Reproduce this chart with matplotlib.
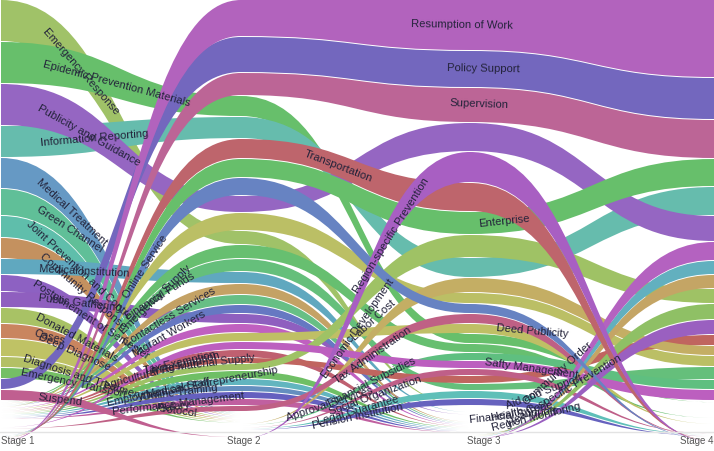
import matplotlib
matplotlib.use("Agg")
import matplotlib.pyplot as plt
from matplotlib.path import Path
from matplotlib.patches import PathPatch

plt.rcParams['font.family'] = ['Liberation Sans', 'DejaVu Sans']

STAGE_NAMES = ["Stage 1", "Stage 2", "Stage 3", "Stage 4"]

# topic -> colour, in drawing order (later topics lie on top, and sit lower among zero tails)
TOPIC_NAMES = [
    "Emergency Response", "Epidemic Prevention Materials", "Information Reporting",
    "Medical Treatment", "Green Channel", "Joint Prevention and Control", "Community Response",
    "Medical Institution", "Postponement of Semester", "Public Gathering", "Donated Materials",
    "Cases", "Deep Diagnose", "Diagnosis and Treatment", "Emergency Transport",
    "Emergency Supply", "Financial Funds", "Contactless Services", "Work Safety", "Migrant Workers",
    "Material Security", "Agricultural Resumption", "Deed Publicity", "Living Material Supply",
    "Tax Exemption", "Economic Development", "Employment and Entrepreneurship", "Medical Staff",
    "Online Training", "Performance Management", "Salary", "Labor Cost", "Financial Subsidies",
    "Approval Services", "Social Organization", "Legal Guarantee", "Pension Institution",
    "Safty Management", "Tax Administration", "Aid and Support", "Health Code", "Financial Support",
    "Health-specific Prevention", "Community Order", "Publicity and Guidance", "Suspend",
    "Online Service", "Enterprise", "Transportation", "Region-specific Prevention",
    "Supervision", "Policy Support", "Resumption of Work",
]
TOPIC_COLORS = [
    "#A0C268", "#67BF6B", "#66BCAD",
    "#6699C4", "#60BF98", "#5FBEAB", "#C4915F",
    "#60A8BF", "#8D61C2", "#8F5FBF", "#A8C265",
    "#C9855F", "#BFC265", "#B3C065", "#75BF65",
    "#67BF70", "#65BF7B", "#C4A265", "#67BF85", "#6678C2",
    "#BBBF65", "#C060C0", "#BFBF65", "#BF6070",
    "#C0655F", "#9FC265", "#6FBF65", "#62B5BF",
    "#658FBF", "#6560BF", "#C060A0", "#C4AE64", "#5FBF80",
    "#75BF65", "#BF5F88", "#5FBFB8", "#6662BE",
    "#BC5FBF", "#BF6085", "#8FC065", "#C4A565", "#62B0BF",
    "#9A60C0", "#B462C0", "#9566C2", "#C05F90",
    "#6783C2", "#67BF6B", "#BE656C", "#A85FC2",
    "#BC6596", "#7367BE", "#B263BD",
]

STAGE1_TOPICS = ["Emergency Response", "Epidemic Prevention Materials", "Publicity and Guidance",
                 "Information Reporting", "Medical Treatment", "Green Channel",
                 "Joint Prevention and Control", "Community Response", "Medical Institution",
                 "Postponement of Semester", "Public Gathering", "Donated Materials", "Cases",
                 "Deep Diagnose", "Diagnosis and Treatment", "Emergency Transport",
                 "Policy Support", "Suspend"]
STAGE1_VALUES = [41, 41, 41, 31, 30, 26, 21, 20, 15, 16, 15, 15, 14, 17, 10, 10, 10, 10]

STAGE2_TOPICS = ["Resumption of Work", "Policy Support", "Supervision", "Epidemic Prevention Materials",
                 "Information Reporting", "Transportation", "Enterprise", "Online Service",
                 "Publicity and Guidance", "Material Security", "Emergency Response", "Emergency Supply",
                 "Financial Funds", "Medical Institution", "Contactless Services", "Work Safety",
                 "Migrant Workers", "Public Gathering", "Agricultural Resumption", "Deed Publicity",
                 "Safty Management", "Living Material Supply", "Tax Exemption", "Economic Development",
                 "Employment and Entrepreneurship", "Medical Staff", "Online Training",
                 "Performance Management", "Salary", "Tax Administration"]
STAGE2_VALUES = [36, 35, 22, 20, 21, 19, 18, 17, 16, 17, 13, 13, 12, 11, 10, 9, 8, 9, 8, 8, 7, 7, 5, 6, 7, 6, 5, 6, 6, 5]

STAGE3_TOPICS = ["Resumption of Work", "Policy Support", "Supervision", "Publicity and Guidance",
                 "Region-specific Prevention", "Transportation", "Enterprise", "Economic Development",
                 "Information Reporting", "Labor Cost", "Material Security", "Online Service",
                 "Tax Administration", "Deed Publicity", "Epidemic Prevention Materials",
                 "Emergency Supply", "Financial Subsidies", "Safty Management", "Social Organization",
                 "Tax Exemption", "Financial Funds", "Legal Guarantee", "Pension Institution"]
STAGE3_VALUES = [50, 36, 34, 28, 30, 28, 22, 22, 19, 14, 10, 9, 9, 9, 9, 8, 7, 7, 6, 7, 6, 7, 6]

STAGE4_TOPICS = ["Resumption of Work", "Policy Support", "Supervision", "Enterprise",
                 "Information Reporting", "Publicity and Guidance", "Community Order", "Financial Support",
                 "Health Code", "Economic Development", "Aid and Support", "Health-specific Prevention",
                 "Tax Exemption", "Labor Cost", "Material Security", "Financial Funds",
                 "Financial Subsidies", "Safty Management"]
STAGE4_VALUES = [77, 41, 38, 27, 28, 25, 18, 13, 13, 14, 15, 14, 10, 9, 10, 12, 9, 10]

# text, centre x, centre y, rotation
LABELS = [
    ("Emergency Response", 81, 71, -49), ("Epidemic Prevention Materials", 117, 84, -15),
    ("Publicity and Guidance", 89, 136, -29), ("Information Reporting", 94, 138, 5),
    ("Medical Treatment", 72, 212, -43), ("Green Channel", 70, 229, -33),
    ("Joint Prevention and Control", 80, 271, -43), ("Community Response", 83, 292, -41),
    ("Medical Institution", 84, 271, -3), ("Postponement of Semester", 91, 320, -33),
    ("Public Gathering", 80, 303, -7), ("Donated Materials", 77, 338, -28),
    ("Cases", 50, 337, -15), ("Deep Diagnose", 74, 352, -24),
    ("Diagnosis and Treatment", 83, 378, -18), ("Emergency Transport", 74, 383, -12),
    ("Suspend", 60, 400, -7), ("Online Service", 145, 267, 57),
    ("Emergency Supply", 155, 300, 44), ("Financial Funds", 160, 296, 32),
    ("Contactless Services", 170, 317, 31), ("Migrant Workers", 169, 334, 30),
    ("Agricultural Resumption", 162, 371, 15), ("Tax Exemption", 180, 363, 13),
    ("Living Material Supply", 200, 364, 7), ("Employment and Entrepreneurship", 192, 387, 11),
    ("Medical Staff", 178, 388, 12), ("Online Training", 180, 392, 7),
    ("Performance Management", 178, 404, 7), ("Salary", 175, 407, 8), ("Protocol", 176, 411, -8),
    ("Transportation", 338, 166, -21), ("Region-specific Prevention", 391, 236, 58),
    ("Economic Development", 358, 329, 55), ("Labor Cost", 373, 320, 42),
    ("Tax Administration", 373, 355, 35), ("Financial Subsidies", 372, 382, 27),
    ("Social Organization", 375, 396, 20), ("Approval Services", 330, 404, 18),
    ("Legal Guarantee", 358, 411, 16), ("Pension Institution", 358, 416, 12),
    ("Resumption of Work", 462, 25, -1), ("Policy Support", 483, 69, -1),
    ("Supervision", 479, 104, -2), ("Enterprise", 504, 221, 6),
    ("Deed Publicity", 532, 331, -5), ("Safty Management", 531, 369, -8),
    ("Community Order", 558, 374, 42), ("Aid and Support", 544, 392, 21),
    ("Health-specific Prevention", 565, 391, 31), ("Financial Support", 513, 415, 6),
    ("Health Code", 522, 412, 12), ("Region Monitoring", 536, 417, 14),
]

STAGE_TOPICS = [STAGE1_TOPICS, STAGE2_TOPICS, STAGE3_TOPICS, STAGE4_TOPICS]
STAGE_VALUES = [STAGE1_VALUES, STAGE2_VALUES, STAGE3_VALUES, STAGE4_VALUES]

W, H = 714, 452
TOP = 1.0
GAP = 1.0
TAIL_GAP = 1.2
STAGE_X = [1, 241, 470, 714]

fig = plt.figure(figsize=(W / 100, H / 100), dpi=100, facecolor="white")
ax = fig.add_axes([0, 0, 1, 1])
ax.set_xlim(0, W)
ax.set_ylim(H, 0)
ax.axis("off")


def layout(topics, values):
    """Stack the stage's topics from the top; topics without a value follow as zero tails."""
    spans = {}
    y = TOP
    for name, value in zip(topics, values):
        spans[name] = (y, y + value)
        y += value + GAP
    for name in TOPIC_NAMES:
        if name not in spans:
            spans[name] = (y, y)
            y += TAIL_GAP
    return spans


spans = [layout(t, v) for t, v in zip(STAGE_TOPICS, STAGE_VALUES)]

for name, color in zip(TOPIC_NAMES, TOPIC_COLORS):
    for k in range(3):
        a0, a1 = spans[k][name]
        b0, b1 = spans[k + 1][name]
        if a1 - a0 == 0 and b1 - b0 == 0:
            continue
        x0, x1 = STAGE_X[k], STAGE_X[k + 1]
        xm = (x0 + x1) / 2
        verts = [(x0, a0), (xm, a0), (xm, b0), (x1, b0), (x1, b1),
                 (xm, b1), (xm, a1), (x0, a1), (x0, a0)]
        codes = [Path.MOVETO, Path.CURVE4, Path.CURVE4, Path.CURVE4, Path.LINETO,
                 Path.CURVE4, Path.CURVE4, Path.CURVE4, Path.CLOSEPOLY]
        ax.add_patch(PathPatch(Path(verts, codes), facecolor=color, edgecolor="none", lw=0))

ax.plot([0, W], [433, 433], color="#e3e3e3", lw=1, zorder=1)

for (text, x, y, rot) in LABELS:
    ax.text(x, y, text, fontsize=8.1, color="#23233a", rotation=rot, rotation_mode="anchor",
            ha="center", va="center", zorder=5)

ax.text(1, 441, STAGE_NAMES[0], fontsize=7.0, color="#555555", ha="left", va="center")
ax.text(227, 441, STAGE_NAMES[1], fontsize=7.0, color="#555555", ha="left", va="center")
ax.text(467, 441, STAGE_NAMES[2], fontsize=7.0, color="#555555", ha="left", va="center")
ax.text(713, 441, STAGE_NAMES[3], fontsize=7.0, color="#555555", ha="right", va="center")

fig.savefig("out.png", dpi=100, facecolor="white")
